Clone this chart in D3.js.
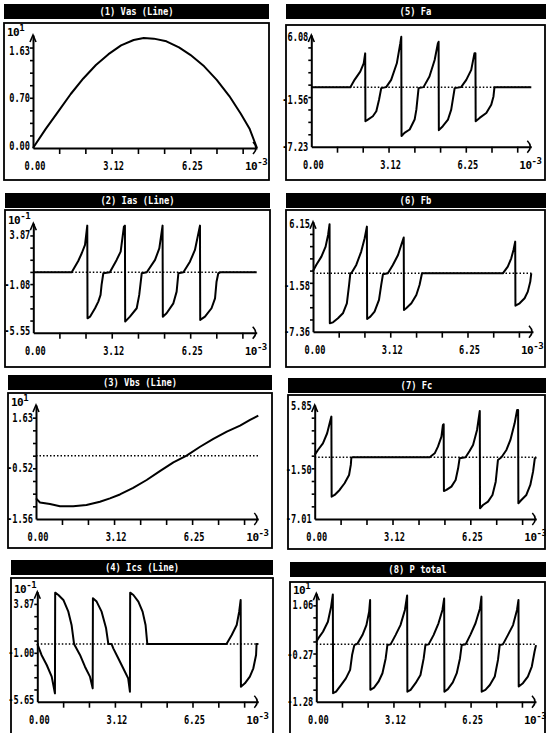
<!DOCTYPE html>
<html>
<head>
<meta charset="utf-8">
<script src="https://cdn.jsdelivr.net/npm/d3@7"></script>
<style>
  body { margin: 0; background: #fff; }
</style>
</head>
<body>
<div id="chart"></div>
<script>
var svgWidth = 546;
var svgHeight = 733;

// panel titles, in drawing order (left column then right column)
var titles = ["(1) Vas (Line)", "(2) Ias (Line)", "(3) Vbs (Line)", "(4) Ics (Line)",
              "(5) Fa", "(6) Fb", "(7) Fc", "(8) P total"];

// time axis (ms, shown as x 10^-3)
var xTickValues = [0, 3.125, 6.25];
var xTickLabels = ["0.00", "3.12", "6.25"];
var xMinorTicks = [1.04, 2.08, 3.125, 4.17, 5.21, 6.25, 7.29, 8.33];
var xMax = 8.9;

// y labels as printed, and where they sit on each axis
var yTickText = [
  ["1.63", "0.70", "0.00"],
  ["3.87", "-1.08", "-5.55"],
  ["1.63", "-0.52", "-1.56"],
  ["3.87", "-1.00", "-5.65"],
  ["6.08", "-1.56", "-7.23"],
  ["6.15", "-1.58", "-7.36"],
  ["5.85", "-1.50", "-7.01"],
  ["1.06", "-0.27", "-1.28"]
];
var yTickAt = [
  [1.44, 0.74, 0.03],
  [3.86, -1.31, -6.07],
  [1.63, -0.55, -2.74],
  [3.75, -0.87, -5.25],
  [6.08, -1.56, -7.2],
  [6.15, -1.58, -7.36],
  [5.85, -1.50, -7.01],
  [1.06, -0.29, -1.55]
];
var yExponent = ["1", "-1", "1", "-1", "", "", "", "1"];

// y domains (value at x axis, value at arrow tip)
var yDomains = [
  [0, 1.674], [-6.25, 5.07], [-2.76, 2.21], [-5.41, 4.9],
  [-7.2, 6.3], [-7.36, 6.5], [-7.01, 5.94], [-1.55, 1.38]
];

// waveforms [t (ms), value]
var vasData = [[0,0],[0.5,0.28],[1.0,0.54],[1.5,0.80],[2.0,1.03],[2.5,1.23],[3.0,1.39],[3.5,1.52],
  [4.0,1.60],[4.4,1.63],[4.8,1.62],[5.3,1.58],[5.8,1.49],[6.25,1.38],[6.8,1.21],[7.3,1.01],
  [7.8,0.77],[8.25,0.51],[8.6,0.29],[8.9,0]];

var iasData = [[0,0],[1.53,0],[1.79,1.17],[1.93,1.97],[2.06,2.83],[2.15,4.83],[2.16,-4.76],
  [2.26,-4.59],[2.46,-3.72],[2.59,-3.03],[2.68,-2.34],[2.72,-1.31],[2.79,-0.10],[3.05,0],
  [3.32,1.28],[3.48,2.14],[3.61,4.72],[3.65,4.83],[3.66,-5.10],[3.85,-4.59],[4.12,-3.72],
  [4.22,-2.34],[4.32,-0.10],[4.52,0],[4.85,1.28],[5.02,2.48],[5.15,4.83],[5.16,-4.59],
  [5.31,-4.24],[5.58,-3.21],[5.71,-2.0],[5.78,-0.10],[5.98,0],[6.24,1.10],[6.44,2.31],
  [6.64,4.83],[6.65,-4.93],[6.84,-4.59],[7.10,-3.72],[7.24,-2.69],[7.30,-0.97],[7.37,-0.10],
  [7.45,0],[8.9,0]];

var vbsData = [[0,-1.86],[0.16,-2.04],[0.56,-2.11],[0.96,-2.20],[1.49,-2.20],[2.02,-2.15],
  [2.56,-2.01],[2.96,-1.86],[3.36,-1.69],[3.89,-1.40],[4.43,-1.06],[4.96,-0.67],[5.50,-0.29],
  [6.03,0],[6.57,0.39],[7.10,0.73],[7.64,1.05],[8.17,1.31],[8.57,1.56],[8.9,1.75]];

var icsData = [[0,0],[0.17,-1.03],[0.38,-1.97],[0.58,-3.06],[0.71,-4.63],[0.72,4.81],[0.85,4.59],
  [1.05,4.13],[1.25,3.03],[1.38,1.78],[1.48,0],[1.72,-1.03],[1.92,-2.13],[2.12,-3.06],
  [2.23,-4.16],[2.24,4.28],[2.39,3.97],[2.59,3.03],[2.77,1.47],[2.86,0],[2.99,0],[3.06,-0.41],
  [3.26,-1.34],[3.46,-2.28],[3.66,-3.22],[3.73,-4.47],[3.74,4.81],[3.87,4.59],[4.07,3.97],
  [4.24,3.03],[4.36,1.78],[4.43,0],[7.62,0],[7.83,0.84],[8.03,1.78],[8.13,3.03],[8.19,4.13],
  [8.20,-4.0],[8.36,-3.69],[8.56,-3.06],[8.70,-2.28],[8.81,-1.03],[8.83,0],[8.9,0]];

var faData = [[0,0],[1.58,0],[1.75,0.88],[1.98,1.88],[2.12,2.88],[2.18,4.08],[2.19,-4.12],
  [2.29,-3.92],[2.49,-3.52],[2.63,-2.92],[2.74,-1.52],[2.83,-0.12],[3.03,0],[3.23,0.88],
  [3.46,2.88],[3.60,5.28],[3.64,6.08],[3.65,-5.92],[3.77,-5.52],[3.98,-5.12],[4.18,-3.92],
  [4.25,-2.72],[4.34,-0.12],[4.54,0],[4.78,1.28],[4.99,3.28],[5.12,5.28],[5.15,5.48],
  [5.16,-5.20],[5.32,-4.72],[5.53,-3.92],[5.66,-2.72],[5.80,-0.12],[6.06,0],[6.27,0.88],
  [6.47,2.08],[6.60,4.08],[6.64,4.08],[6.65,-4.12],[6.81,-3.72],[7.08,-3.12],[7.28,-2.12],
  [7.37,-1.12],[7.41,0],[8.9,0]];

var fbData = [[0,0.29],[0.13,1.05],[0.34,2.10],[0.51,3.36],[0.61,4.83],[0.67,6.18],[0.68,-6.30],
  [0.81,-6.18],[1.01,-5.67],[1.21,-5.04],[1.37,-3.78],[1.46,-1.47],[1.51,0],[1.55,0],
  [1.75,1.05],[1.95,2.73],[2.09,4.41],[2.18,5.88],[2.19,-5.76],[2.32,-5.46],[2.49,-4.83],
  [2.67,-3.36],[2.76,-1.47],[2.83,-0.13],[3.03,0],[3.23,1.05],[3.44,2.31],[3.57,3.57],
  [3.67,4.50],[3.68,-4.62],[3.77,-4.41],[3.98,-3.78],[4.18,-2.73],[4.31,-1.47],[4.41,0],
  [7.68,0],[7.88,0.84],[8.02,1.89],[8.11,2.94],[8.18,3.99],[8.19,-4.08],[8.36,-3.78],
  [8.56,-3.15],[8.69,-2.31],[8.79,-1.05],[8.83,0]];

var fcData = [[0,0.27],[0.13,0.83],[0.33,1.59],[0.50,2.73],[0.60,3.86],[0.67,4.62],[0.68,-4.47],
  [0.80,-4.28],[1.00,-3.71],[1.20,-2.95],[1.38,-2.01],[1.45,-0.87],[1.47,-0.11],[1.50,0],
  [4.62,0],[4.82,0.45],[4.95,1.21],[5.09,2.35],[5.15,3.67],[5.18,3.75],[5.19,-3.83],
  [5.29,-3.71],[5.49,-3.33],[5.66,-2.58],[5.76,-1.25],[5.82,-0.11],[6.06,0],[6.22,0.72],
  [6.36,1.40],[6.52,3.11],[6.63,5.27],[6.64,-5.80],[6.76,-5.42],[6.96,-5.04],[7.14,-4.28],
  [7.27,-2.77],[7.36,-0.30],[7.50,0],[7.70,0.83],[7.86,1.97],[8.03,3.86],[8.13,5.38],
  [8.17,5.38],[8.18,-5.23],[8.30,-4.85],[8.50,-4.28],[8.66,-3.14],[8.77,-1.63],[8.84,-0.11],
  [8.9,0]];

var ptotData = [[0,0.07],[0.13,0.21],[0.27,0.34],[0.47,0.61],[0.60,1.02],[0.67,1.35],[0.68,-1.32],
  [0.80,-1.28],[1.00,-1.10],[1.20,-0.92],[1.37,-0.69],[1.45,-0.29],[1.54,-0.02],[1.67,0.02],
  [1.87,0.25],[2.03,0.52],[2.14,0.88],[2.18,1.20],[2.19,-1.23],[2.34,-1.17],[2.52,-1.01],
  [2.68,-0.78],[2.81,-0.38],[2.88,-0.02],[3.01,0],[3.21,0.25],[3.41,0.52],[3.59,0.93],
  [3.68,1.32],[3.69,-1.28],[3.82,-1.23],[4.02,-1.05],[4.22,-0.83],[4.35,-0.38],[4.42,-0.02],
  [4.55,0],[4.75,0.25],[4.95,0.57],[5.11,0.93],[5.18,1.24],[5.19,-1.28],[5.33,-1.21],
  [5.53,-1.03],[5.69,-0.78],[5.82,-0.38],[5.89,-0.02],[6.05,0],[6.25,0.27],[6.45,0.57],
  [6.63,0.97],[6.69,1.29],[6.70,-1.28],[6.85,-1.23],[7.03,-1.10],[7.23,-0.87],[7.36,-0.42],
  [7.43,-0.02],[7.56,0],[7.76,0.25],[7.97,0.52],[8.13,0.93],[8.19,1.20],[8.20,-1.14],
  [8.37,-1.05],[8.57,-0.87],[8.73,-0.60],[8.84,-0.20],[8.9,-0.02]];

var series = [vasData, iasData, vbsData, icsData, faData, fbData, fcData, ptotData];

// page layout of each panel (pixels), same order as titles
var layout = [
  {boxX: 4,   boxW: 265, titleY: 4,   boxY: 23,  boxB: 180, x0: 33,    x1: 257,   base: 148,   top: 35},
  {boxX: 5,   boxW: 265, titleY: 193, boxY: 210, boxB: 367, x0: 33.3,  x1: 256.7, base: 332.7, top: 223.3},
  {boxX: 8,   boxW: 264, titleY: 375, boxY: 393, boxB: 548, x0: 36,    x1: 258.3, base: 519,   top: 405},
  {boxX: 11,  boxW: 262, titleY: 560, boxY: 578, boxB: 745, x0: 37.3,  x1: 258.3, base: 701.7, top: 591.7},
  {boxX: 286, boxW: 259, titleY: 4,   boxY: 25,  boxB: 180, x0: 311.3, x1: 531.3, base: 146.7, top: 35},
  {boxX: 286, boxW: 259, titleY: 193, boxY: 210, boxB: 367, x0: 313,   x1: 533,   base: 331.7, top: 221.7},
  {boxX: 288, boxW: 257, titleY: 378, boxY: 395, boxB: 549, x0: 314.7, x1: 536.3, base: 519,   top: 405},
  {boxX: 290, boxW: 255, titleY: 562, boxY: 582, boxB: 745, x0: 316.3, x1: 536,   base: 701.7, top: 593.3}
];

var svg = d3.select("#chart")
  .append("svg")
  .attr("width", svgWidth)
  .attr("height", svgHeight)
  .style("font-family", "'DejaVu Sans Mono', monospace")
  .style("font-weight", "bold");

svg.append("rect").attr("width", svgWidth).attr("height", svgHeight).attr("fill", "#fff");

// narrow, tall labels like the old plotter font
function label(g, x, y, txt, anchor, size, perChar) {
  return g.append("text")
    .attr("x", x)
    .attr("y", y)
    .attr("text-anchor", anchor)
    .attr("dominant-baseline", "central")
    .attr("font-size", size)
    .attr("textLength", txt.length * perChar)
    .attr("lengthAdjust", "spacingAndGlyphs")
    .text(txt);
}

// "10" with a raised exponent, as one text
function powerLabel(g, x, y, exp, size) {
  var t = g.append("text")
    .attr("x", x)
    .attr("y", y)
    .attr("font-size", size)
    .attr("letter-spacing", -0.5);
  t.append("tspan").text("10");
  t.append("tspan")
    .attr("dy", -5)
    .attr("font-size", size - 2)
    .text(exp);
  return t;
}

layout.forEach(function(p, i) {
  var g = svg.append("g");

  // title bar
  var titleW = p.boxX > 200 ? svgWidth - p.boxX : p.boxW;
  g.append("rect")
    .attr("x", p.boxX).attr("y", p.titleY)
    .attr("width", titleW).attr("height", 15)
    .attr("fill", "#000");
  label(g, p.boxX + p.boxW / 2, p.titleY + 7.5, titles[i], "middle", 11, 5.3)
    .attr("fill", "#fff");

  // frame
  g.append("rect")
    .attr("x", p.boxX).attr("y", p.boxY)
    .attr("width", p.boxW).attr("height", p.boxB - p.boxY)
    .attr("fill", "none").attr("stroke", "#000").attr("stroke-width", 1.8);

  var x = d3.scaleLinear().domain([0, xMax]).range([p.x0, p.x1]);
  var y = d3.scaleLinear().domain(yDomains[i]).range([p.base, p.top]);

  // x axis with short ticks
  var xAxis = g.append("g")
    .attr("transform", `translate(0, ${p.base})`)
    .call(d3.axisBottom(x).tickValues(xMinorTicks).tickSize(6).tickSizeOuter(0).tickFormat(""));
  xAxis.select(".domain").attr("stroke-width", 2);
  xAxis.selectAll(".tick line").attr("stroke-width", 1.6);

  // y axis with short ticks
  var yd = yDomains[i];
  var yMinor = d3.range(1, 9).map(k => yd[0] + k * (yd[1] - yd[0]) / 9);
  var yAxis = g.append("g")
    .attr("transform", `translate(${p.x0}, 0)`)
    .call(d3.axisLeft(y).tickValues(yMinor).tickSize(3).tickSizeOuter(0).tickFormat(""));
  yAxis.select(".domain").attr("stroke-width", 2);
  yAxis.selectAll(".tick line").attr("stroke-width", 1.6);

  // arrow heads
  g.append("path")
    .attr("d", `M${p.x0 - 3},${p.top + 7}L${p.x0},${p.top}L${p.x0 + 3},${p.top + 7}`)
    .attr("fill", "none").attr("stroke", "#000").attr("stroke-width", 1.6);
  g.append("path")
    .attr("d", `M${p.x1 - 4},${p.base - 6}Q${p.x1 + 2},${p.base} ${p.x1 - 4},${p.base + 6}`)
    .attr("fill", "none").attr("stroke", "#000").attr("stroke-width", 1.6);

  // dotted zero line
  if (yd[0] < 0) {
    g.append("line")
      .attr("x1", p.x0).attr("x2", p.x1)
      .attr("y1", y(0)).attr("y2", y(0))
      .attr("stroke", "#000").attr("stroke-width", 1.5)
      .attr("stroke-dasharray", "1.5,2");
  }

  // waveform
  var line = d3.line().x(d => x(d[0])).y(d => y(d[1]));
  g.append("path")
    .datum(series[i])
    .attr("d", line)
    .attr("fill", "none")
    .attr("stroke", "#000")
    .attr("stroke-width", 2)
    .attr("stroke-linejoin", "round");

  // y labels
  yTickText[i].forEach(function(t, k) {
    label(g, p.x0 - 3, y(yTickAt[i][k]), t, "end", 12, 5.2);
  });

  // y exponent (10^n) at top left
  if (yExponent[i] !== "") {
    powerLabel(g, p.boxX + 3, p.top + 1, yExponent[i], 11);
  }

  // x labels
  xTickValues.forEach(function(v, k) {
    label(g, x(v) + 2, p.base + 18, xTickLabels[k], "middle", 12, 5.2);
  });
  powerLabel(g, p.x1 - 12, p.base + 22, "-3", 11);
});
</script>
</body>
</html>
